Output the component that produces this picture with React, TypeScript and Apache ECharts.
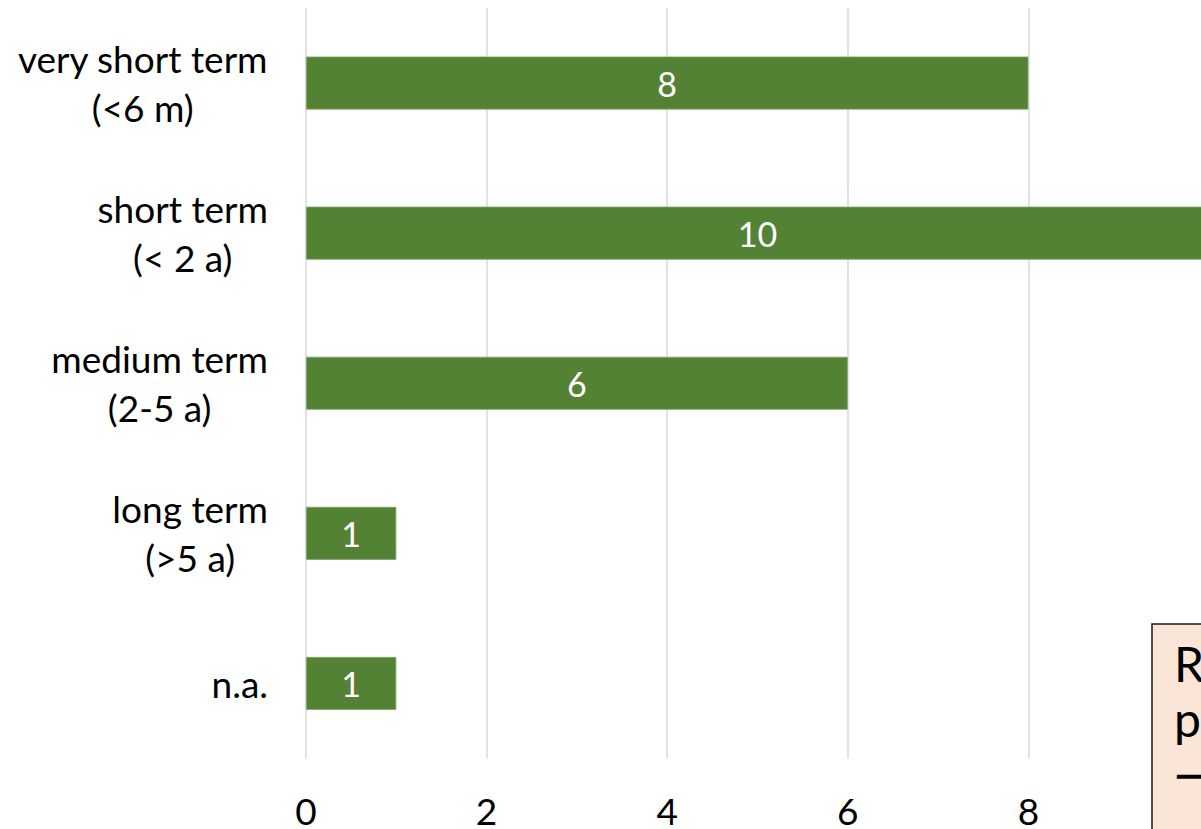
import React, { useEffect, useRef } from "react";
import * as echarts from "echarts";

const categories = [
  "very short term\n(<6 m)",
  "short term\n(< 2 a)",
  "medium term\n(2-5 a)",
  "long term\n(>5 a)",
  "n.a.",
];
const values = [8, 10, 6, 1, 1];
const noteLines = ["R", "p", "→"];

const FONT = "Lato";
const FS = 37;

export default function App() {
  const ref = useRef<HTMLDivElement>(null);
  useEffect(() => {
    if (!ref.current) return;
    const chart = echarts.init(ref.current, undefined, { renderer: "svg" });
    chart.setOption({
      animation: false,
      backgroundColor: "#ffffff",
      grid: { left: 306, top: 8, width: 903, height: 755, containLabel: false },
      xAxis: {
        type: "value",
        min: 0,
        max: 10,
        interval: 2,
        axisLine: { show: false },
        axisTick: { show: false },
        splitLine: { show: true, lineStyle: { color: "#d9d9d9", width: 1.5 } },
        axisLabel: {
          fontFamily: FONT,
          fontSize: FS,
          color: "#000",
          margin: 36,
          lineHeight: 32,
          showMaxLabel: false,
        },
      },
      yAxis: {
        type: "category",
        inverse: true,
        data: categories,
        axisLine: { show: false },
        axisTick: { show: false },
        axisLabel: {
          margin: 38,
          align: "right",
          formatter: (v: string) =>
            v
              .split("\n")
              .map((l) => `{c|${l}}`)
              .join("\n"),
          rich: {
            c: {
              align: "center",
              fontFamily: FONT,
              fontSize: FS,
              color: "#000",
              lineHeight: 49,
            },
          },
        },
      },
      series: [
        {
          type: "bar",
          data: values,
          barWidth: 53,
          clip: false,
          itemStyle: { color: "#548235", borderColor: "#7fa466", borderWidth: 0.8 },
          label: {
            show: true,
            position: "inside",
            color: "#ffffff",
            fontFamily: FONT,
            fontSize: 34,
          },
        },
      ],
      graphic: [
        {
          type: "rect",
          shape: { x: 1152, y: 624, width: 300, height: 300 },
          style: { fill: "#fbe5d6", stroke: "#1a1a1a", lineWidth: 1.5 },
          z: 10,
        },
        ...noteLines.map((t, i) => ({
          type: "text",
          x: 1174,
          y: 639 + i * 55,
          z: 11,
          style: {
            text: t,
            fill: "#000",
            font: `48px ${FONT}`,
            textVerticalAlign: "top",
          },
        })),
      ],
    });
    return () => chart.dispose();
  }, []);
  return (
    <div
      style={{
        position: "fixed",
        left: 0,
        top: 0,
        width: 1201,
        height: 829,
        overflow: "hidden",
        background: "#fff",
      }}
    >
      <div ref={ref} style={{ width: 1320, height: 829 }} />
    </div>
  );
}
